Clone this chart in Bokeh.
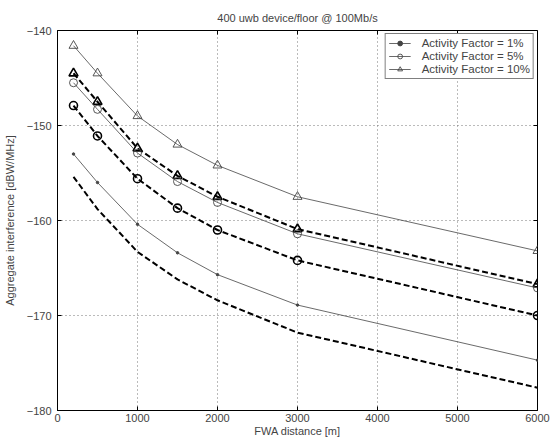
import math
from bokeh.plotting import figure
from bokeh.models import Range1d, Legend, LegendItem, FixedTicker
from bokeh.embed import file_html
from bokeh.resources import INLINE

x_m = [200, 500, 1000, 1500, 2000, 3000, 6000]

# thin solid lines (in legend)
af1_thin = [-153.0, -156.0, -160.4, -163.4, -165.7, -168.9, -174.7]
af5_thin = [-145.5, -148.3, -152.9, -155.9, -158.1, -161.4, -167.1]
af10_thin = [-141.6, -144.5, -149.0, -152.0, -154.2, -157.5, -163.2]
# thick dashed lines
af1_dash = [-155.4, -158.8, -163.3, -166.2, -168.4, -171.8, -177.6]
af5_dash = [-147.9, -151.1, -155.6, -158.7, -161.0, -164.2, -170.0]
af10_dash = [-144.5, -147.5, -152.4, -155.3, -157.5, -160.9, -166.7]

labels = ["Activity Factor = 1%", "Activity Factor = 5%", "Activity Factor = 10%"]
x_ticks = [0, 1000, 2000, 3000, 4000, 5000, 6000]
y_ticks = [-180, -170, -160, -150, -140]
x_min, x_max = 0, 6000
y_min, y_max = -180, -140

FONT = "Liberation Sans"

p = figure(width=555, height=441, output_backend="svg", toolbar_location=None,
           x_range=Range1d(x_min, x_max), y_range=Range1d(y_min, y_max),
           min_border_left=53, min_border_right=18, min_border_top=30, min_border_bottom=31,
           title="400 uwb device/floor @ 100Mb/s")
p.background_fill_color = "white"
p.border_fill_color = "white"
p.outline_line_color = "black"
p.outline_line_width = 1

p.title.align = "center"
p.title.text_font = FONT
p.title.text_font_size = "11px"
p.title.text_font_style = "normal"
p.title.vertical_align = "top"
p.title.standoff = 10

for ax in p.xaxis + p.yaxis:
    ax.major_tick_in = 4
    ax.major_tick_out = 0
    ax.minor_tick_line_color = None
    ax.major_label_text_font = FONT
    ax.major_label_text_font_size = "11px"
    ax.axis_label_text_font = FONT
    ax.axis_label_text_font_size = "11px"
    ax.axis_label_text_font_style = "normal"
    ax.axis_line_color = "black"
    ax.major_tick_line_color = "black"

p.xaxis.ticker = FixedTicker(ticks=x_ticks)
p.yaxis.ticker = FixedTicker(ticks=y_ticks)
p.xaxis.axis_label = "FWA distance [m]"
p.yaxis.axis_label = "Aggregate interference [dBW/MHz]"
p.xaxis.major_label_standoff = 3
p.xaxis.axis_label_standoff = 0
p.yaxis.major_label_standoff = 6
p.yaxis.axis_label_standoff = 8

# tick marks on top and right edges (half of each dash is clipped by the frame)
p.scatter(x_ticks, [y_max] * len(x_ticks), marker="dash", angle=math.pi / 2,
          size=8, line_color="black", line_width=1)
p.scatter([x_max] * len(y_ticks), y_ticks, marker="dash", angle=0,
          size=8, line_color="black", line_width=1)

p.xgrid.ticker = FixedTicker(ticks=x_ticks)
p.ygrid.ticker = FixedTicker(ticks=y_ticks)
p.grid.grid_line_color = "#777777"
p.grid.grid_line_dash = "1 3"
p.grid.grid_line_width = 1

thin_col = "#444444"
# thick dashed series
p.line(x_m, af1_dash, line_color="black", line_width=2, line_dash="6 3")
p.line(x_m, af5_dash, line_color="black", line_width=2, line_dash="6 3")
p.scatter(x_m, af5_dash, marker="circle", size=8, fill_color=None, line_color="black", line_width=1.6)
p.line(x_m, af10_dash, line_color="black", line_width=2, line_dash="6 3")
p.scatter(x_m, af10_dash, marker="triangle", size=9, fill_color=None, line_color="black", line_width=1.6)

# thin series
l1 = p.line(x_m, af1_thin, line_color=thin_col, line_width=0.8)
s1 = p.scatter(x_m, af1_thin, marker="circle", size=2.5, fill_color=thin_col, line_color=thin_col)
l5 = p.line(x_m, af5_thin, line_color=thin_col, line_width=0.8)
s5 = p.scatter(x_m, af5_thin, marker="circle", size=8, fill_color=None, line_color=thin_col, line_width=0.9)
l10 = p.line(x_m, af10_thin, line_color=thin_col, line_width=0.8)
s10 = p.scatter(x_m, af10_thin, marker="triangle", size=9, fill_color=None, line_color=thin_col, line_width=0.9)

legend = Legend(items=[
    LegendItem(label=labels[0], renderers=[l1, s1]),
    LegendItem(label=labels[1], renderers=[l5, s5]),
    LegendItem(label=labels[2], renderers=[l10, s10]),
], location="top_right")
legend.label_text_font = FONT
legend.label_text_font_size = "11.5px"
legend.label_height = 12
legend.glyph_height = 12
legend.glyph_width = 22
legend.label_standoff = 11
legend.spacing = 1
legend.padding = 3
legend.margin = 3
legend.border_line_color = "black"
legend.border_line_width = 1
legend.background_fill_color = "white"
legend.background_fill_alpha = 1
p.add_layout(legend, "center")

open("out.html", "w").write(file_html(p, INLINE))
